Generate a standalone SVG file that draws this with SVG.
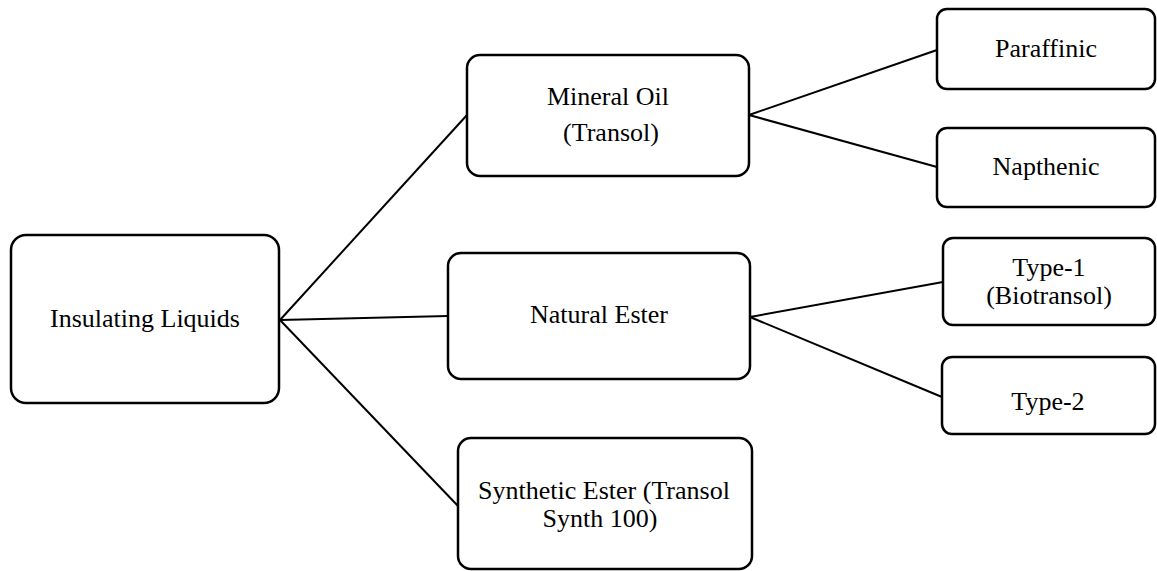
<svg xmlns="http://www.w3.org/2000/svg" width="1157" height="571" viewBox="0 0 1157 571">
<style>
.box{fill:#fff;stroke:#000;stroke-width:2.5}
.lbl{font-family:"Liberation Serif","Times New Roman",serif;font-size:26px;fill:#000;text-anchor:middle}
.conn line{stroke:#000;stroke-width:2}
</style>
<rect width="1157" height="571" fill="#fff"/>
<g class="conn">
<line x1="280" y1="320" x2="467" y2="115"/>
<line x1="280" y1="320" x2="448" y2="316"/>
<line x1="280" y1="320" x2="458" y2="506"/>
<line x1="749" y1="115" x2="937" y2="50"/>
<line x1="749" y1="115" x2="937" y2="167"/>
<line x1="750" y1="317" x2="943" y2="282"/>
<line x1="750" y1="317" x2="942" y2="397"/>
</g>
<g id="insulating">
<rect class="box" x="11" y="235" width="268" height="168" rx="15"/>
<text class="lbl" x="145" y="327">Insulating Liquids</text>
</g>
<g id="mineral">
<rect class="box" x="467" y="55" width="282" height="121" rx="13"/>
<text class="lbl" x="608" y="105">Mineral Oil</text>
<text class="lbl" x="611" y="141">(Transol)</text>
</g>
<g id="natural">
<rect class="box" x="448" y="253" width="302" height="126" rx="13"/>
<text class="lbl" x="599" y="323">Natural Ester</text>
</g>
<g id="synthetic">
<rect class="box" x="458" y="438" width="294" height="131" rx="13"/>
<text class="lbl" x="604" y="499">Synthetic Ester (Transol</text>
<text class="lbl" x="600" y="527">Synth 100)</text>
</g>
<g id="paraffinic">
<rect class="box" x="937" y="9" width="218" height="80" rx="10"/>
<text class="lbl" x="1046" y="57">Paraffinic</text>
</g>
<g id="napthenic">
<rect class="box" x="937" y="128" width="218" height="79" rx="10"/>
<text class="lbl" x="1046" y="175">Napthenic</text>
</g>
<g id="type1">
<rect class="box" x="943" y="238" width="212" height="87" rx="10"/>
<text class="lbl" x="1049" y="276">Type-1</text>
<text class="lbl" x="1049" y="304">(Biotransol)</text>
</g>
<g id="type2">
<rect class="box" x="942" y="357" width="213" height="77" rx="10"/>
<text class="lbl" x="1048" y="410">Type-2</text>
</g>
</svg>
